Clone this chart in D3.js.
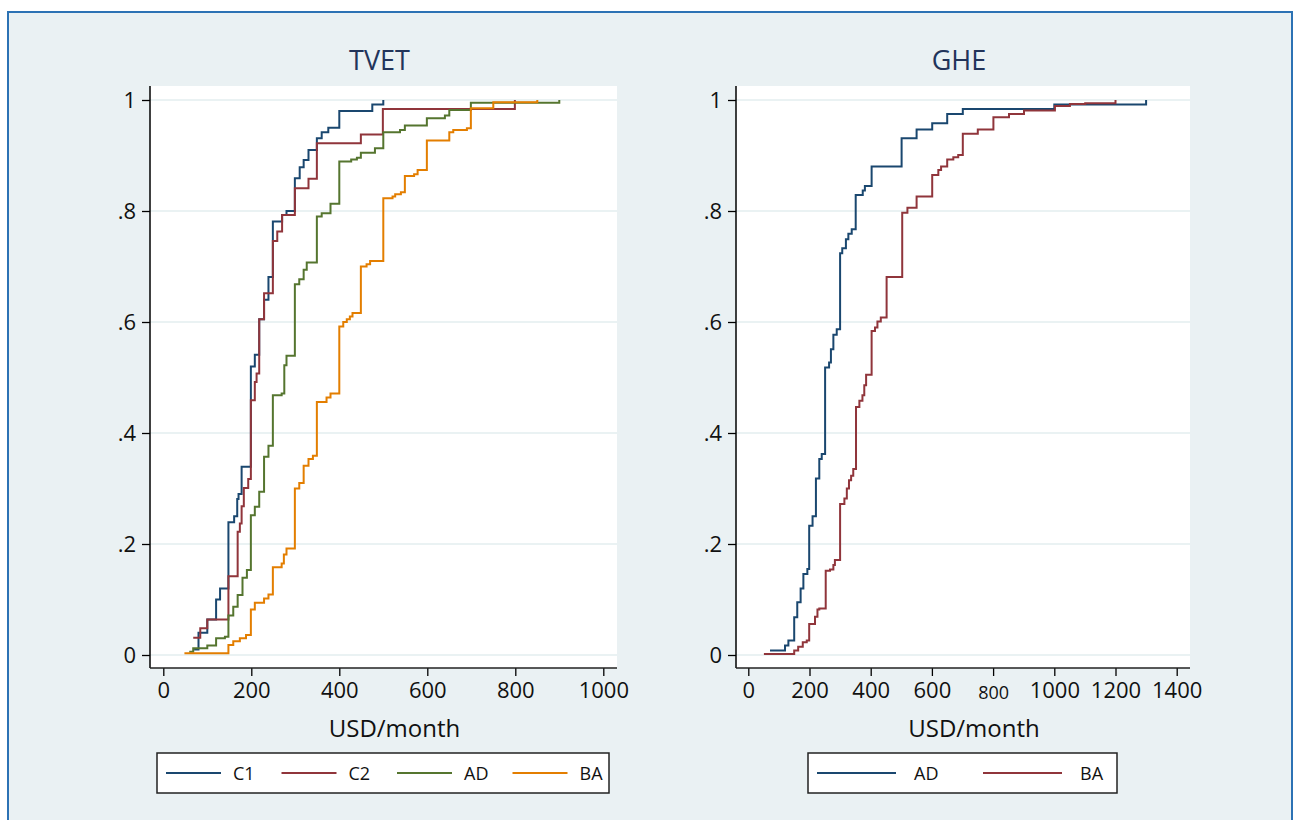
<!DOCTYPE html>
<html>
<head>
<meta charset="utf-8">
<script src="https://cdn.jsdelivr.net/npm/d3@7"></script>
<style>
  html, body { margin: 0; padding: 0; background: #fff; }
  svg { display: block; font-family: "Open Sans", "Noto Sans", sans-serif; }
</style>
</head>
<body>
<svg id="chart" width="1293" height="820"></svg>
<script>
/* ============================================================
   Empirical CDFs of wages – TVET vs GHE (Stata-style panels)
   ============================================================ */

// ─── data: [USD/month, cumulative share] ──────────────────
const tvetC1 = [
  [70, 0.01], [80, 0.04], [100, 0.064], [120, 0.10], [129, 0.12], [148, 0.239],
  [161, 0.25], [168, 0.281], [171, 0.29], [178, 0.339], [199, 0.52], [208, 0.541],
  [218, 0.605], [229, 0.64], [239, 0.681], [249, 0.781], [270, 0.793], [280, 0.80],
  [299, 0.859], [310, 0.879], [319, 0.892], [330, 0.91], [349, 0.931], [360, 0.942],
  [375, 0.95], [400, 0.98], [475, 0.992], [500, 1.0]
];
const tvetC2 = [
  [68, 0.031], [84, 0.048], [100, 0.064], [148, 0.142], [169, 0.222], [174, 0.237],
  [178, 0.268], [183, 0.301], [193, 0.317], [199, 0.459], [208, 0.492], [212, 0.507],
  [218, 0.605], [229, 0.652], [249, 0.746], [259, 0.763], [270, 0.793], [299, 0.841],
  [330, 0.858], [349, 0.922], [449, 0.938], [499, 0.984], [799, 1.0]
];
const tvetAD = [
  [59, 0.006], [68, 0.012], [100, 0.017], [120, 0.030], [140, 0.033], [148, 0.071],
  [159, 0.087], [169, 0.108], [180, 0.139], [190, 0.153], [199, 0.252], [208, 0.267],
  [218, 0.294], [229, 0.357], [239, 0.377], [249, 0.468], [269, 0.471], [275, 0.522],
  [280, 0.539], [299, 0.668], [309, 0.677], [319, 0.694], [326, 0.707], [349, 0.790],
  [360, 0.796], [380, 0.813], [400, 0.889], [427, 0.893], [440, 0.896], [449, 0.905],
  [481, 0.913], [500, 0.942], [538, 0.946], [549, 0.954], [599, 0.967], [640, 0.972],
  [650, 0.982], [699, 0.995], [900, 1.0]
];
const tvetBA = [
  [48, 0.003], [148, 0.018], [159, 0.025], [174, 0.030], [188, 0.036], [199, 0.082],
  [208, 0.094], [229, 0.102], [239, 0.109], [249, 0.158], [269, 0.165], [274, 0.181],
  [280, 0.192], [299, 0.300], [309, 0.310], [319, 0.341], [330, 0.353], [340, 0.359],
  [349, 0.456], [371, 0.464], [380, 0.471], [400, 0.592], [409, 0.600], [417, 0.605],
  [424, 0.610], [430, 0.616], [449, 0.700], [462, 0.704], [470, 0.710], [500, 0.823],
  [521, 0.826], [527, 0.830], [540, 0.834], [549, 0.863], [570, 0.866], [578, 0.874],
  [599, 0.927], [650, 0.942], [659, 0.946], [690, 0.949], [699, 0.985], [750, 0.996],
  [850, 1.0]
];
const gheAD = [
  [71, 0.008], [120, 0.017], [131, 0.026], [150, 0.068], [160, 0.095], [171, 0.12],
  [180, 0.146], [193, 0.155], [199, 0.233], [210, 0.25], [221, 0.318], [232, 0.353],
  [240, 0.362], [251, 0.518], [264, 0.527], [270, 0.551], [278, 0.577], [289, 0.587],
  [300, 0.724], [307, 0.733], [319, 0.749], [327, 0.759], [338, 0.767], [351, 0.829],
  [374, 0.837], [381, 0.845], [403, 0.880], [501, 0.931], [550, 0.947], [601, 0.958],
  [650, 0.975], [701, 0.984], [1000, 0.992], [1300, 1.0]
];
const gheBA = [
  [51, 0.002], [150, 0.008], [163, 0.015], [178, 0.023], [191, 0.026], [199, 0.056],
  [218, 0.069], [226, 0.082], [232, 0.084], [253, 0.152], [267, 0.154], [278, 0.162],
  [283, 0.171], [300, 0.272], [314, 0.282], [322, 0.300], [329, 0.315], [336, 0.323],
  [343, 0.335], [352, 0.447], [363, 0.458], [373, 0.468], [379, 0.486], [385, 0.505],
  [403, 0.584], [414, 0.590], [422, 0.601], [433, 0.608], [452, 0.681], [503, 0.797],
  [520, 0.806], [550, 0.826], [601, 0.865], [621, 0.874], [630, 0.880], [650, 0.893],
  [670, 0.897], [686, 0.901], [701, 0.939], [750, 0.947], [801, 0.969], [852, 0.975],
  [901, 0.981], [1002, 0.989], [1051, 0.993], [1101, 0.994], [1200, 1.0]
];

const yTicks = [0, 0.2, 0.4, 0.6, 0.8, 1];
const tvetXTicks = [0, 200, 400, 600, 800, 1000];
const gheXTicks = [0, 200, 400, 600, 800, 1000, 1200, 1400];

const tvetNames = ['C1', 'C2', 'AD', 'BA'];
const gheNames = ['AD', 'BA'];

// ─── Stata s2color palette ────────────────────────────
const NAVY = '#1a476f', MAROON = '#90353b', FOREST = '#55752f', ORANGE = '#e37e00';
const BG = '#eaf1f3', GRID = '#eaf2f3', TITLE = '#22345a';

const svg = d3.select('#chart');

// outer graph region
svg.append('rect')
  .attr('x', 8).attr('y', 12)
  .attr('width', 1284).attr('height', 830)
  .attr('fill', BG)
  .attr('stroke', '#2c72b4').attr('stroke-width', 2);

// shared vertical scale
const PLOT_TOP = 86, PLOT_BOTTOM = 668;
const y = d3.scaleLinear().domain([0, 1]).range([655, 100]);

function fmtY(d) {
  if (d === 0) return '0';
  if (d === 1) return '1';
  return String(d).replace('0.', '.');
}

function drawPanel(cfg) {
  const { left, right, x, title, xTicks, series, legend } = cfg;
  const g = svg.append('g');

  // plot region
  g.append('rect')
    .attr('x', left).attr('y', PLOT_TOP)
    .attr('width', right - left).attr('height', PLOT_BOTTOM - PLOT_TOP)
    .attr('fill', '#fff');

  // gridlines
  g.selectAll('.grid')
    .data(yTicks)
    .enter().append('line')
    .attr('x1', left).attr('x2', right)
    .attr('y1', d => y(d)).attr('y2', d => y(d))
    .attr('stroke', GRID).attr('stroke-width', 2);

  // step lines
  const line = d3.line()
    .x(d => x(d[0]))
    .y(d => y(d[1]))
    .curve(d3.curveStepAfter);

  series.forEach(s => {
    g.append('path')
      .datum(s.data)
      .attr('d', line)
      .attr('fill', 'none')
      .attr('stroke', s.color)
      .attr('stroke-width', 2);
  });

  // y axis
  const yAxis = g.append('g')
    .attr('transform', `translate(${left},0)`)
    .call(d3.axisLeft(y).tickValues(yTicks).tickFormat(fmtY).tickSize(8).tickPadding(6).tickSizeOuter(0));
  yAxis.select('.domain').remove();
  yAxis.selectAll('.tick line').attr('stroke', '#000').attr('stroke-width', 1.3);
  yAxis.selectAll('.tick text')
    .attr('font-size', 22).attr('fill', '#111')
    .attr('font-family', '"Open Sans", sans-serif');
  g.append('line')
    .attr('x1', left).attr('x2', left)
    .attr('y1', PLOT_TOP).attr('y2', PLOT_BOTTOM)
    .attr('stroke', '#000').attr('stroke-width', 1.5);

  // x axis
  const xAxis = g.append('g')
    .attr('transform', `translate(0,${PLOT_BOTTOM})`)
    .call(d3.axisBottom(x).tickValues(xTicks).tickFormat(d3.format('d'))
      .tickSize(8).tickPadding(6).tickSizeOuter(0));
  xAxis.select('.domain').remove();
  xAxis.selectAll('.tick line').attr('stroke', '#000').attr('stroke-width', 1.3);
  xAxis.selectAll('.tick text')
    .attr('font-size', d => (cfg.smallTick === d ? 18 : 22))
    .attr('dy', d => (cfg.smallTick === d ? '0.95em' : '0.71em'))
    .attr('fill', '#111')
    .attr('font-family', '"Open Sans", sans-serif');
  g.append('line')
    .attr('x1', left).attr('x2', right)
    .attr('y1', PLOT_BOTTOM).attr('y2', PLOT_BOTTOM)
    .attr('stroke', '#222').attr('stroke-width', 1.5);

  const mid = (left + right) / 2;

  // title
  g.append('text')
    .attr('x', mid - 4).attr('y', 70)
    .attr('text-anchor', 'middle')
    .attr('font-size', 27).attr('fill', TITLE)
    .text(title);

  // x title
  g.append('text')
    .attr('x', mid + 11).attr('y', 737)
    .attr('text-anchor', 'middle')
    .attr('font-size', 24).attr('fill', '#111')
    .text('USD/month');

  // legend
  const lg = g.append('g');
  lg.append('rect')
    .attr('x', legend.x).attr('y', 753)
    .attr('width', legend.w).attr('height', 40)
    .attr('fill', '#fff')
    .attr('stroke', '#222').attr('stroke-width', 1.5);
  series.forEach((s, i) => {
    const x0 = legend.x + legend.first + i * legend.step;
    lg.append('line')
      .attr('x1', x0).attr('x2', x0 + legend.len)
      .attr('y1', 773).attr('y2', 773)
      .attr('stroke', s.color).attr('stroke-width', 2);
    lg.append('text')
      .attr('x', x0 + legend.len + legend.gap).attr('y', 780)
      .attr('font-size', 18).attr('fill', '#111')
      .text(s.name);
  });
}

// ─── TVET panel ───────────────────────────────────────
const xTvet = d3.scaleLinear().domain([0, 1000]).range([163.3, 603.3]);
const tvetData = [tvetC1, tvetC2, tvetAD, tvetBA];
const tvetColors = [NAVY, MAROON, FOREST, ORANGE];
drawPanel({
  left: 150, right: 617, x: xTvet, title: 'TVET', xTicks: tvetXTicks,
  series: tvetNames.map((n, i) => ({ name: n, data: tvetData[i], color: tvetColors[i] })),
  legend: { x: 157, w: 452, first: 9, step: 115.5, len: 55, gap: 12 }
});

// ─── GHE panel ────────────────────────────────────────
const xGhe = d3.scaleLinear().domain([0, 1400]).range([748.3, 1176.7]);
const gheData = [gheAD, gheBA];
const gheColors = [NAVY, MAROON];
drawPanel({
  left: 736, right: 1190, x: xGhe, title: 'GHE', xTicks: gheXTicks, smallTick: 800,
  series: gheNames.map((n, i) => ({ name: n, data: gheData[i], color: gheColors[i] })),
  legend: { x: 808, w: 309, first: 9, step: 166, len: 79, gap: 18 }
});
</script>
</body>
</html>
